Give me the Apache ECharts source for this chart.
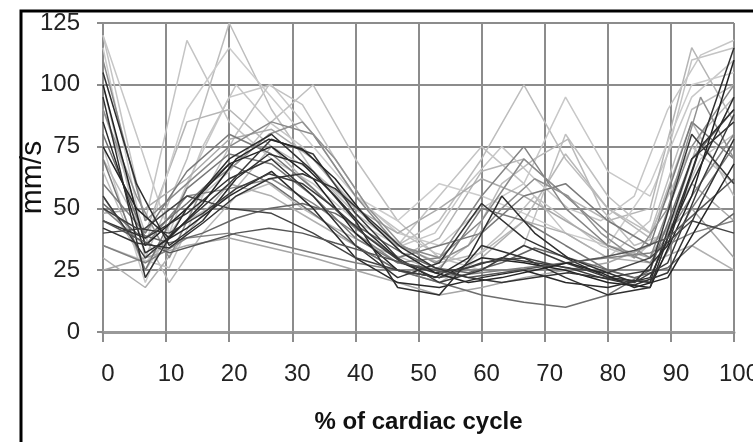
<!DOCTYPE html>
<html>
<head>
<meta charset="utf-8">
<script src="https://cdn.jsdelivr.net/npm/echarts@6/dist/echarts.min.js"></script>
<style>
  html, body { margin: 0; padding: 0; background: #fff; }
  #chart { width: 753px; height: 442px; }
</style>
</head>
<body>
<div id="chart"></div>
<script>
// % of cardiac cycle where samples were taken (two frame rates)
var cyclePctA = [0, 6.7, 13.3, 20, 26.7, 33.3, 40, 46.7, 53.3, 60, 66.7, 73.3, 80, 86.7, 93.3, 100];
var cyclePctB = [0, 5.3, 10.5, 15.8, 21.1, 26.3, 31.6, 36.8, 42.1, 47.4, 52.6, 57.9, 63.2, 68.4, 73.7, 78.9, 84.2, 89.5, 94.7, 100];
var xTicks = [0, 10, 20, 30, 40, 50, 60, 70, 80, 90, 100];
var yTicks = [0, 25, 50, 75, 100, 125];

// velocity curves (mm/s), one per subject, sampled on cyclePctA
var subj01 = [100, 35, 50, 68, 75, 62, 40, 25, 22, 30, 28, 25, 20, 18, 55, 110];
var subj02 = [45, 38, 48, 62, 70, 55, 35, 22, 28, 52, 38, 30, 22, 20, 70, 85];
var subj03 = [55, 30, 45, 60, 78, 72, 48, 30, 20, 25, 35, 28, 22, 25, 80, 60];
var subj04 = [85, 32, 42, 55, 65, 50, 30, 20, 18, 22, 25, 20, 18, 22, 60, 95];
var subj05 = [40, 42, 55, 50, 48, 40, 30, 25, 22, 28, 30, 26, 24, 30, 45, 40];
var subj06 = [110, 45, 60, 75, 85, 80, 55, 35, 30, 45, 70, 55, 40, 30, 75, 100];
var subj07 = [70, 25, 58, 72, 68, 55, 38, 28, 25, 50, 45, 35, 25, 20, 50, 75];
var subj08 = [60, 40, 65, 80, 72, 58, 42, 30, 35, 40, 55, 60, 45, 35, 85, 70];
var subj09 = [35, 28, 38, 40, 36, 32, 28, 25, 22, 24, 26, 28, 30, 32, 40, 45];
var subj10 = [95, 22, 50, 70, 80, 65, 45, 18, 15, 35, 30, 22, 15, 18, 65, 115];
var subj11 = [50, 35, 55, 58, 62, 52, 40, 28, 30, 55, 75, 50, 35, 28, 55, 80];
var subj12 = [120, 45, 118, 85, 70, 60, 45, 35, 55, 75, 60, 40, 30, 45, 110, 115];
var subj13 = [100, 30, 70, 125, 90, 65, 50, 35, 45, 70, 100, 70, 50, 40, 90, 100];
var subj14 = [75, 20, 60, 95, 100, 80, 55, 40, 35, 50, 60, 95, 65, 55, 95, 110];
var subj15 = [30, 18, 40, 60, 55, 45, 35, 25, 20, 30, 45, 40, 30, 28, 35, 25];
var subj16 = [90, 40, 85, 90, 75, 58, 42, 30, 38, 65, 70, 55, 45, 50, 115, 85];
var subj17 = [65, 25, 50, 65, 85, 100, 70, 45, 30, 25, 35, 80, 55, 40, 75, 60];
var subj18 = [48, 50, 62, 78, 82, 70, 50, 40, 50, 62, 55, 45, 35, 30, 60, 45];
var subj19 = [25, 30, 35, 38, 34, 30, 25, 20, 15, 18, 22, 25, 28, 35, 50, 30];
var subj20 = [80, 38, 52, 68, 60, 48, 35, 25, 20, 15, 12, 10, 15, 25, 70, 90];
var subj21 = [115, 35, 90, 115, 95, 75, 55, 45, 60, 55, 48, 40, 35, 60, 100, 105];
var subj22 = [55, 28, 45, 55, 75, 65, 48, 35, 28, 32, 45, 72, 50, 38, 85, 55];

// velocity curves (mm/s) sampled on cyclePctB
var subj23 = [105, 60, 35, 45, 62, 72, 68, 55, 40, 28, 22, 30, 55, 40, 30, 25, 20, 35, 75, 90];
var subj24 = [50, 42, 40, 48, 58, 64, 60, 50, 38, 28, 24, 26, 30, 28, 26, 22, 20, 28, 60, 88];
var subj25 = [90, 55, 30, 58, 68, 80, 85, 70, 50, 35, 28, 35, 50, 62, 55, 40, 30, 50, 95, 70];
var subj26 = [120, 80, 40, 75, 100, 85, 75, 60, 45, 35, 40, 60, 75, 62, 50, 45, 55, 90, 112, 118];
var subj27 = [70, 45, 20, 40, 55, 60, 50, 42, 35, 30, 25, 35, 60, 70, 78, 50, 35, 40, 80, 95];
var subj28 = [45, 38, 32, 36, 40, 42, 40, 36, 32, 28, 25, 22, 24, 26, 28, 30, 33, 38, 50, 62];
var subj29 = [35, 30, 26, 55, 80, 100, 92, 70, 50, 40, 32, 28, 40, 55, 45, 35, 30, 42, 70, 80];
var subj30 = [75, 50, 38, 52, 70, 78, 74, 62, 45, 32, 24, 20, 22, 25, 28, 24, 18, 22, 45, 68];
var subj31 = [42, 36, 34, 44, 55, 62, 64, 58, 46, 34, 26, 22, 20, 22, 24, 22, 19, 24, 52, 78];
var subj32 = [52, 40, 36, 40, 46, 50, 52, 48, 40, 32, 26, 24, 28, 34, 30, 26, 22, 26, 38, 48];

var curves = [
  [cyclePctA, subj12], [cyclePctA, subj13], [cyclePctA, subj14], [cyclePctA, subj16],
  [cyclePctA, subj17], [cyclePctA, subj21], [cyclePctA, subj22], [cyclePctB, subj26],
  [cyclePctB, subj27], [cyclePctB, subj29], [cyclePctA, subj18], [cyclePctA, subj15],
  [cyclePctA, subj19], [cyclePctA, subj06], [cyclePctA, subj08], [cyclePctA, subj11],
  [cyclePctA, subj20], [cyclePctA, subj07], [cyclePctA, subj09], [cyclePctB, subj25],
  [cyclePctB, subj32], [cyclePctA, subj01], [cyclePctA, subj02], [cyclePctA, subj03],
  [cyclePctA, subj04], [cyclePctA, subj05], [cyclePctA, subj10], [cyclePctB, subj23],
  [cyclePctB, subj24], [cyclePctB, subj28], [cyclePctB, subj30], [cyclePctB, subj31]
];
var shades = [
  "#c4c4c4", "#bdbdbd", "#c8c8c8", "#b5b5b5",
  "#c0c0c0", "#cccccc", "#b8b8b8", "#c6c6c6",
  "#bababa", "#c2c2c2", "#aaaaaa", "#b0b0b0",
  "#a5a5a5", "#8a8a8a", "#7a7a7a", "#858585",
  "#6e6e6e", "#777777", "#808080", "#909090",
  "#666666", "#222222", "#333333", "#3a3a3a",
  "#2a2a2a", "#444444", "#303030", "#2e2e2e",
  "#3c3c3c", "#555555", "#262626", "#343434"
];

var myChart = echarts.init(document.getElementById("chart"));
var gridLine = { lineStyle: { color: "#8c8c8c", width: 2 } };

var series = curves.map(function (c, i) {
  var xs = c[0], vals = c[1];
  return {
    type: "line",
    data: xs.map(function (x, j) { return [x, vals[j]]; }),
    showSymbol: false,
    symbol: "none",
    lineStyle: { color: shades[i], width: 1.5 },
    z: 3,
    silent: true
  };
});

myChart.setOption({
  animation: false,
  backgroundColor: "#fff",
  graphic: [
    {
      type: "rect",
      shape: { x: 21, y: 11, width: 800, height: 500 },
      style: { fill: "none", stroke: "#000", lineWidth: 3 },
      z: 0
    }
  ],
  grid: {
    left: 103,
    right: 19,
    top: 23,
    bottom: 110,
    outerBoundsMode: "none"
  },
  xAxis: {
    type: "value",
    min: xTicks[0],
    max: xTicks[xTicks.length - 1],
    interval: xTicks[1] - xTicks[0],
    name: "% of cardiac cycle",
    nameLocation: "middle",
    nameGap: 78,
    nameMoveOverlap: false,
    nameTextStyle: { fontFamily: "Liberation Sans", fontSize: 24, fontWeight: "bold", color: "#111" },
    axisLine: { onZero: false, lineStyle: { color: "#999", width: 3 } },
    axisTick: { show: true, length: 10, lineStyle: { color: "#8c8c8c", width: 2 } },
    axisLabel: { margin: 30, padding: [0, 0, 0, 10], fontFamily: "Liberation Sans", fontSize: 24, color: "#222" },
    splitLine: gridLine
  },
  yAxis: {
    type: "value",
    min: yTicks[0],
    max: yTicks[yTicks.length - 1],
    interval: yTicks[1] - yTicks[0],
    name: "mm/s",
    nameLocation: "middle",
    nameGap: 55,
    nameMoveOverlap: false,
    nameTextStyle: { fontFamily: "Liberation Sans", fontSize: 30, color: "#111" },
    axisLine: { show: false },
    axisTick: { show: true, length: 6, lineStyle: { color: "#8c8c8c", width: 2 } },
    axisLabel: { margin: 23, fontFamily: "Liberation Sans", fontSize: 24, color: "#222" },
    splitLine: gridLine
  },
  series: series
});
</script>
</body>
</html>
